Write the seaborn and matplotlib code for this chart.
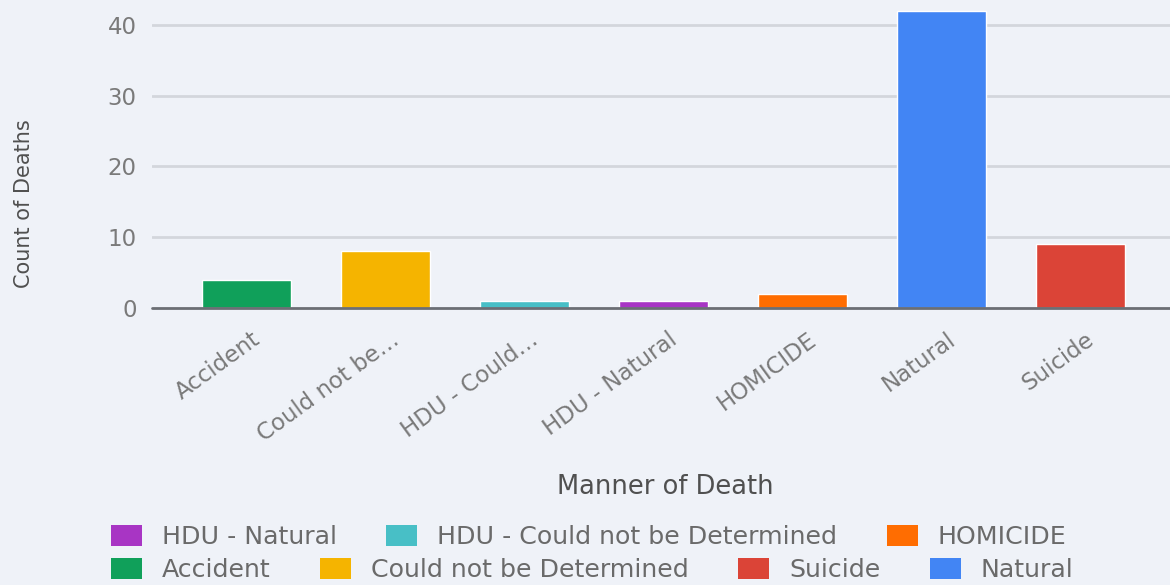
import matplotlib
matplotlib.use("Agg")
import matplotlib.pyplot as plt
import matplotlib.transforms as mtransforms
from matplotlib.patches import Patch
import seaborn as sns
import pandas as pd

# Deaths by manner of death
categories = ["Accident", "Could not be Determined", "HDU - Could not be Determined",
              "HDU - Natural", "HOMICIDE", "Natural", "Suicide"]
tick_labels = ["Accident", "Could not be…", "HDU - Could…", "HDU - Natural",
               "HOMICIDE", "Natural", "Suicide"]
counts = [4, 8, 1, 1, 2, 42, 9]
colors = ["#10a05a", "#f5b400", "#48bfc6", "#a835c4", "#ff6d01", "#4285f4", "#db4437"]

legend_row1 = ["HDU - Natural", "HDU - Could not be Determined", "HOMICIDE"]
legend_row2 = ["Accident", "Could not be Determined", "Suicide", "Natural"]

palette = dict(zip(categories, colors))
df = pd.DataFrame({"manner": categories, "count": counts})

bg = "#eff2f8"
sns.set_theme(style="white")
plt.rcParams["font.family"] = ["DejaVu Sans"]

W, H, DPI = 1170, 585, 100
fig = plt.figure(figsize=(W / DPI, H / DPI), dpi=DPI, facecolor=bg)
ax = fig.add_axes([152 / W, 1 - 308 / H, 1 - 152 / W, 308 / H])
ax.set_facecolor(bg)

sns.barplot(data=df, x="manner", y="count", hue="manner", palette=palette,
            order=categories, hue_order=categories, width=0.64,
            saturation=1, legend=False, ax=ax, zorder=3)

ax.set_xlim(-0.68, 6.64)
ax.set_ylim(0, 43.5)
ax.set_yticks([0, 10, 20, 30, 40])
for s in ax.spines.values():
    s.set_visible(False)

# horizontal gridlines and baseline
for v in [10, 20, 30, 40]:
    ax.axhline(v, color="#d3d6dc", lw=2, zorder=1)
ax.axhline(0, color="#6b6e74", lw=2, zorder=4, clip_on=False)

ax.tick_params(axis="y", length=0, pad=11, labelsize=16.5, labelcolor="#7a7a7a")
ax.tick_params(axis="x", length=0, pad=21, labelsize=16.5, labelcolor="#7a7a7a")
ax.set_xticks(range(len(categories)))
ax.set_xticklabels(tick_labels, rotation=36, ha="right", va="center",
                   rotation_mode="anchor")
shift = mtransforms.ScaledTranslation(11 / DPI, 0, fig.dpi_scale_trans)
for lbl in ax.get_xticklabels():
    lbl.set_transform(lbl.get_transform() + shift)

ax.set_xlabel("")
ax.set_ylabel("")
fig.text(665 / W, 1 - 487 / H, "Manner of Death", ha="center", va="center",
         fontsize=18.5, color="#505050")
fig.text(24 / W, 1 - 204 / H, "Count of Deaths", ha="center", va="center",
         rotation=90, fontsize=15, color="#505050")

# two-row legend at the bottom
def legend_row(names, y):
    handles = [Patch(facecolor=palette[n], edgecolor="none") for n in names]
    leg = fig.legend(handles, names, loc="center left",
                     bbox_to_anchor=(111 / W, 1 - y / H), ncol=len(names),
                     frameon=False, fontsize=18.2, borderaxespad=0, borderpad=0,
                     handlelength=1.22, handleheight=0.92, handletextpad=0.8,
                     columnspacing=1.95)
    for t in leg.get_texts():
        t.set_color("#6a6a6a")
    return leg

legend_row(legend_row1, 537)
legend_row(legend_row2, 570)

fig.savefig("out.png", dpi=DPI, facecolor=bg)
